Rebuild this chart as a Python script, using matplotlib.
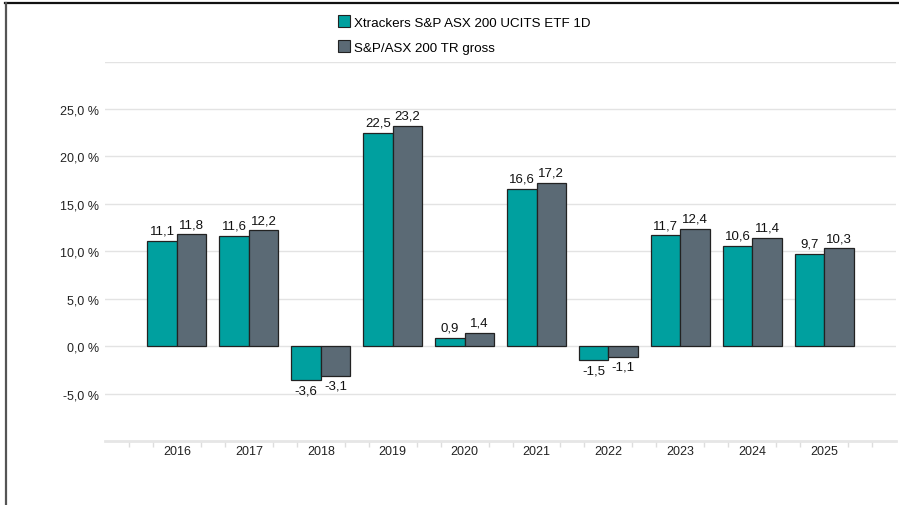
import numpy as np
import matplotlib.pyplot as plt
from matplotlib.lines import Line2D

years = ['2016', '2017', '2018', '2019', '2020', '2021', '2022', '2023', '2024', '2025']
etf = [11.1, 11.6, -3.6, 22.5, 0.9, 16.6, -1.5, 11.7, 10.6, 9.7]
index = [11.8, 12.2, -3.1, 23.2, 1.4, 17.2, -1.1, 12.4, 11.4, 10.3]
names = ['Xtrackers S&P ASX 200 UCITS ETF 1D', 'S&P/ASX 200 TR gross']
yticks = [-5, 0, 5, 10, 15, 20, 25]

teal = '#00A09F'
slate = '#5B6A75'

plt.rcParams['font.family'] = ['Liberation Sans', 'DejaVu Sans']

fig = plt.figure(figsize=(8.99, 5.06), dpi=100)
ax = fig.add_axes([0.1168, 0.1265, 0.88, 0.7498])

x = np.arange(len(years))
w = 0.41
b1 = ax.bar(x - w / 2, etf, w, color=teal, edgecolor='#222222', linewidth=0.9, zorder=3, label=names[0])
b2 = ax.bar(x + w / 2, index, w, color=slate, edgecolor='#222222', linewidth=0.9, zorder=3, label=names[1])

def fmt(v):
    return ('%.1f' % v).replace('.', ',')

for bars, vals in ((b1, etf), (b2, index)):
    for rect, v in zip(bars, vals):
        cx = rect.get_x() + rect.get_width() / 2
        if v >= 0:
            ax.annotate(fmt(v), (cx, v), xytext=(0, 3), textcoords='offset points',
                        ha='center', va='bottom', fontsize=9.5, color='#111111')
        else:
            ax.annotate(fmt(v), (cx, v), xytext=(0, -3), textcoords='offset points',
                        ha='center', va='top', fontsize=9.5, color='#111111')

ax.set_xlim(-1, 10)
ax.set_ylim(-10, 30)

# gridlines
for g in [-5, 0, 5, 10, 15, 20, 25, 30]:
    ax.axhline(g, color='#e3e3e3', linewidth=1, zorder=1)

ax.set_yticks(yticks)
ax.set_yticklabels([fmt(v) + ' %' for v in yticks], fontsize=9, color='#222222')
ax.tick_params(axis='y', length=0, pad=4)

ax.set_xticks(x)
ax.set_xticklabels(years, fontsize=9, color='#222222')
ax.tick_params(axis='x', length=0, pad=3)
minor = [k / 3 for k in range(-3, 31) if k % 3 != 0]
ax.set_xticks(minor, minor=True)
ax.tick_params(axis='x', which='minor', length=4, color='#dddddd', width=1)

for s in ['top', 'right', 'left']:
    ax.spines[s].set_visible(False)
ax.spines['bottom'].set_color('#e6e6e6')
ax.spines['bottom'].set_linewidth(2)

handles = [Line2D([], [], marker='s', linestyle='none', markersize=8,
                  markerfacecolor=c, markeredgecolor='#222222', markeredgewidth=0.8)
           for c in (teal, slate)]
fig.legend(handles, names, loc='upper left', bbox_to_anchor=(0.369, 0.976),
           frameon=False, fontsize=9.6, handletextpad=0.25, labelspacing=0.95,
           borderaxespad=0, handlelength=1)

# frame lines at top and left
fig.add_artist(Line2D([5 / 899, 1], [1 - 3.5 / 506, 1 - 3.5 / 506], color='#111111', linewidth=1.6))
fig.add_artist(Line2D([5.5 / 899, 5.5 / 899], [0, 1 - 3.5 / 506], color='#555555', linewidth=1.6))

fig.savefig('out.png', dpi=100)
